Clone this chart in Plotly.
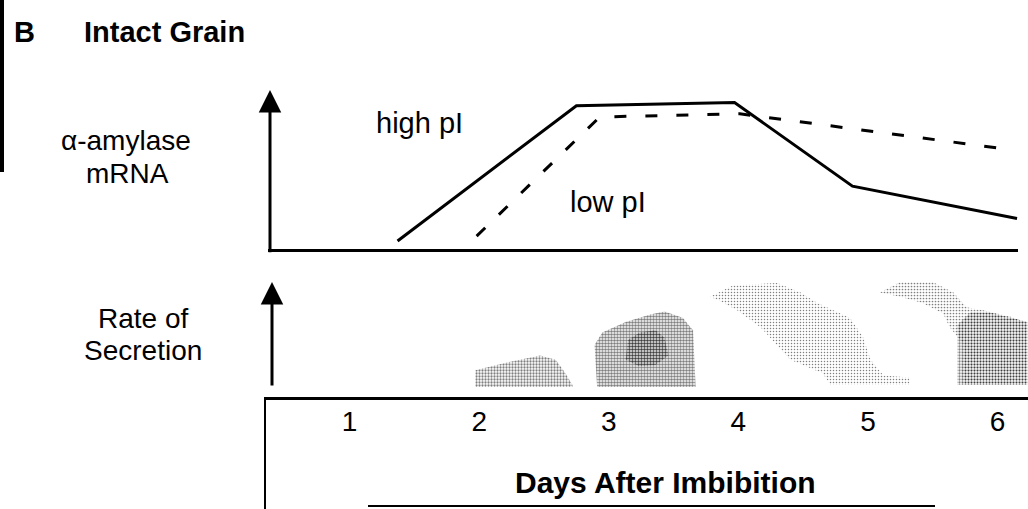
import plotly.graph_objects as go

W, H = 1028, 509

# ---------------- data ----------------
day_ticks = [1, 2, 3, 4, 5, 6]
day_labels = ["1", "2", "3", "4", "5", "6"]

# alpha-amylase mRNA (relative level, 0-100)
high_pi_days = [1.37, 2.75, 3.97, 4.88, 6.15]
high_pi_level = [5, 89, 91, 39, 19]
low_pi_days = [1.98, 2.93, 4.01, 6.07]
low_pi_level = [8, 82, 84, 62]

# rate of secretion (stippled regions, relative rate 0-100)
wave1_days = [1.97, 1.97, 2.24, 2.47, 2.59, 2.66, 2.72, 2.72]
wave1_rate = [0, 16, 24, 30, 26, 14, 2, 0]
wave2_days = [2.91, 2.89, 2.95, 3.13, 3.32, 3.43, 3.57, 3.65, 3.67]
wave2_rate = [0, 40, 52, 62, 69, 72, 66, 54, 0]
wave2_core_days = [3.13, 3.15, 3.24, 3.36, 3.43, 3.46, 3.36, 3.23]
wave2_core_rate = [26, 45, 52, 54, 47, 30, 21, 20]
wave3_days = [3.78, 3.96, 4.30, 4.48, 4.61, 4.86, 4.96, 5.02, 5.12, 5.32, 5.32,
              4.71, 4.65, 4.40, 4.17, 3.99, 3.84]
wave3_rate = [86, 97, 99, 90, 80, 66, 48, 26, 11, 9, 2, 2, 13, 26, 57, 73, 83]
wave4_days = [5.09, 5.25, 5.50, 5.66, 5.76, 5.89, 6.10, 6.23, 6.23, 5.73, 5.73,
              5.63, 5.58, 5.42, 5.25]
wave4_rate = [90, 100, 100, 90, 76, 73, 67, 61, 2, 2, 42, 57, 70, 80, 86]
wave4_core_days = [5.69, 5.69, 5.79, 5.94, 6.23, 6.23]
wave4_core_rate = [2, 59, 71, 71, 62, 2]

# ---------------- geometry helpers ----------------
X0_PX, PX_PER_DAY = 220.0, 129.6


def day(px):
    return (px - X0_PX) / PX_PER_DAY


def fx(px):
    return px / W


def fy(py):
    return 1 - py / H


FONT = "Liberation Sans, Arial, sans-serif"

fig = go.Figure()

fig.add_trace(go.Scatter(x=high_pi_days, y=high_pi_level, mode="lines",
                         line=dict(color="black", width=3), name="high pI",
                         xaxis="x", yaxis="y"))
fig.add_trace(go.Scatter(x=low_pi_days, y=low_pi_level, mode="lines",
                         line=dict(color="black", width=3, dash="12px,19px"),
                         name="low pI", xaxis="x", yaxis="y"))


def stipple(xs, ys, solidity, color="#000", size=3):
    fig.add_trace(go.Scatter(
        x=xs, y=ys, mode="lines", line=dict(width=0), fill="toself",
        fillcolor="rgba(0,0,0,0)",
        fillpattern=dict(shape=".", fgcolor=color, bgcolor="rgba(0,0,0,0)",
                         size=size, solidity=solidity),
        xaxis="x2", yaxis="y2", hoverinfo="skip", showlegend=False))


stipple(wave1_days, wave1_rate, 0.45)
stipple(wave2_days, wave2_rate, 0.55)
stipple(wave2_core_days, wave2_core_rate, 0.5)
stipple(wave3_days, wave3_rate, 0.2)
stipple(wave4_days, wave4_rate, 0.25)
stipple(wave4_core_days, wave4_core_rate, 0.45)

annotations = []


def txt(text, px, py, size=28):
    annotations.append(dict(text=text, x=fx(px), y=fy(py), xref="paper", yref="paper",
                            xanchor="center", yanchor="middle", showarrow=False,
                            font=dict(family=FONT, size=size, color="black")))


txt("<b>B</b>", 24, 32, 29)
txt("<b>Intact Grain</b>", 164, 32, 29)
txt("α-amylase", 126, 141)
txt("mRNA", 127, 173)
txt("Rate of", 143, 318)
txt("Secretion", 143, 350)
txt("high pI", 419, 123, 29)
txt("low pI", 608, 202, 29)
txt("<b>Days After Imbibition</b>", 665, 482, 30)

# axis arrows
annotations.append(dict(x=day(270), y=98.75, xref="x", yref="y",
                        ax=day(270), ay=-3, axref="x", ayref="y", text="",
                        showarrow=True, arrowhead=2, arrowsize=1.5, arrowwidth=3,
                        arrowcolor="black", standoff=0))
annotations.append(dict(x=day(272), y=100, xref="x2", yref="y2",
                        ax=day(272), ay=0, axref="x2", ayref="y2", text="",
                        showarrow=True, arrowhead=2, arrowsize=1.5, arrowwidth=3,
                        arrowcolor="black", standoff=0))

shapes = [
    dict(type="rect", xref="paper", yref="paper", x0=0, x1=fx(4), y0=fy(172), y1=1,
         fillcolor="black", line=dict(width=0)),
    dict(type="line", xref="paper", yref="paper", x0=fx(265), x1=fx(265), y0=0, y1=fy(397),
         line=dict(color="black", width=2)),
    dict(type="line", xref="paper", yref="paper", x0=fx(368), x1=fx(935), y0=fy(506), y1=fy(506),
         line=dict(color="black", width=2)),
]

fig.update_layout(
    width=W, height=H, margin=dict(l=0, r=0, t=0, b=0),
    paper_bgcolor="white", plot_bgcolor="rgba(0,0,0,0)", showlegend=False,
    font=dict(family=FONT, color="black"),
    xaxis=dict(domain=[fx(268), fx(1018)], range=[day(268), day(1018)], anchor="y",
               showline=True, linecolor="black", linewidth=3, showgrid=False,
               zeroline=False, showticklabels=False, ticks=""),
    yaxis=dict(domain=[fy(249), fy(88)], range=[0, 100], anchor="x", visible=False),
    xaxis2=dict(domain=[fx(265), 1], range=[day(265), day(1028)], anchor="y2",
                showline=True, linecolor="black", linewidth=2.5, showgrid=False,
                zeroline=False, ticks="", tickvals=day_ticks, ticktext=day_labels,
                tickfont=dict(family=FONT, size=28, color="black"), ticklabelstandoff=-2),
    yaxis2=dict(domain=[fy(397), fy(282)], range=[-9.52, 100], anchor="x2", visible=False),
    annotations=annotations, shapes=shapes,
)

fig.write_html("out.html")
